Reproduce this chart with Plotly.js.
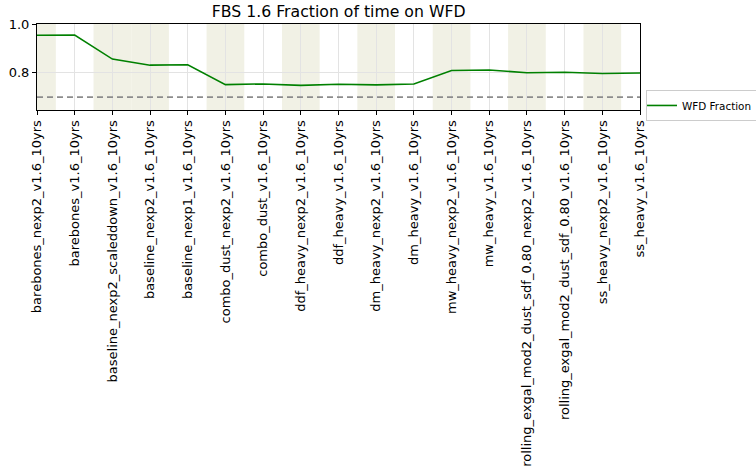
<!DOCTYPE html>
<html>
<head>
<meta charset="utf-8">
<script src="https://cdn.plot.ly/plotly-3.0.1.min.js"></script>
<style>html,body{margin:0;padding:0;background:#fff;} #chart{width:756px;height:472px;}</style>
</head>
<body>
<div id="chart"></div>
<script>
const runNames = [
  "barebones_nexp2_v1.6_10yrs",
  "barebones_v1.6_10yrs",
  "baseline_nexp2_scaleddown_v1.6_10yrs",
  "baseline_nexp2_v1.6_10yrs",
  "baseline_nexp1_v1.6_10yrs",
  "combo_dust_nexp2_v1.6_10yrs",
  "combo_dust_v1.6_10yrs",
  "ddf_heavy_nexp2_v1.6_10yrs",
  "ddf_heavy_v1.6_10yrs",
  "dm_heavy_nexp2_v1.6_10yrs",
  "dm_heavy_v1.6_10yrs",
  "mw_heavy_nexp2_v1.6_10yrs",
  "mw_heavy_v1.6_10yrs",
  "rolling_exgal_mod2_dust_sdf_0.80_nexp2_v1.6_10yrs",
  "rolling_exgal_mod2_dust_sdf_0.80_v1.6_10yrs",
  "ss_heavy_nexp2_v1.6_10yrs",
  "ss_heavy_v1.6_10yrs"
];
const wfdFraction = [0.954, 0.955, 0.856, 0.831, 0.833, 0.751, 0.754, 0.748, 0.753, 0.750, 0.754, 0.809, 0.811, 0.800, 0.802, 0.797, 0.799];
const shadedIndices = [0, 2, 3, 5, 7, 9, 11, 13, 15];
const thresholdValue = 0.7;

const xIdx = runNames.map((_, i) => i);

const shapes = shadedIndices.map(i => ({
  type: 'rect', xref: 'x', yref: 'paper',
  x0: i - 0.5, x1: i + 0.5, y0: 0, y1: 1,
  fillcolor: '#f1f1e5', line: {width: 0}, layer: 'below'
}));
shapes.push({
  type: 'line', xref: 'paper', yref: 'y',
  x0: 0, x1: 1, y0: thresholdValue, y1: thresholdValue,
  line: {color: '#8c8c8c', width: 1.6, dash: '6px,4px'}, layer: 'above'
});

const trace = {
  x: xIdx, y: wfdFraction, type: 'scatter', mode: 'lines',
  name: 'WFD Fraction',
  line: {color: '#008000', width: 1.6}
};

const layout = {
  width: 756, height: 472,
  margin: {l: 37, r: 116, t: 24, b: 362, pad: 0, autoexpand: false},
  paper_bgcolor: '#fff', plot_bgcolor: 'rgba(0,0,0,0)',
  font: {family: 'DejaVu Sans', size: 13, color: '#000'},
  title: {text: 'FBS 1.6 Fraction of time on WFD', font: {family: 'DejaVu Sans', size: 15.7, color: '#000'},
          x: 0.448, xanchor: 'center', y: 0.963, yanchor: 'bottom', yref: 'container'},
  xaxis: {
    range: [0, 16], tickmode: 'array', tickvals: xIdx, ticktext: runNames,
    tickangle: -90, ticks: 'outside', ticklen: 4, tickcolor: '#000',
    showgrid: true, gridcolor: '#e3e3e3', gridwidth: 1,
    showline: true, linecolor: '#000', linewidth: 1, mirror: true,
    zeroline: false, tickfont: {size: 13}, automargin: false
  },
  yaxis: {
    range: [0.647, 1.0], tick0: 0, dtick: 0.2, tickformat: '.1f',
    ticks: 'outside', ticklen: 4, tickcolor: '#000',
    showgrid: true, gridcolor: '#e3e3e3', gridwidth: 1,
    showline: true, linecolor: '#000', linewidth: 1, mirror: true,
    zeroline: false, tickfont: {size: 13}, automargin: false
  },
  showlegend: true,
  legend: {x: 1.01, xanchor: 'left', y: 0.233, yanchor: 'top',
           bordercolor: '#cccccc', borderwidth: 1, bgcolor: '#fff',
           font: {size: 10.4}, itemwidth: 30, indentation: -5},
  shapes: shapes
};

Plotly.newPlot('chart', [trace], layout, {displayModeBar: false, staticPlot: true});
</script>
</body>
</html>
